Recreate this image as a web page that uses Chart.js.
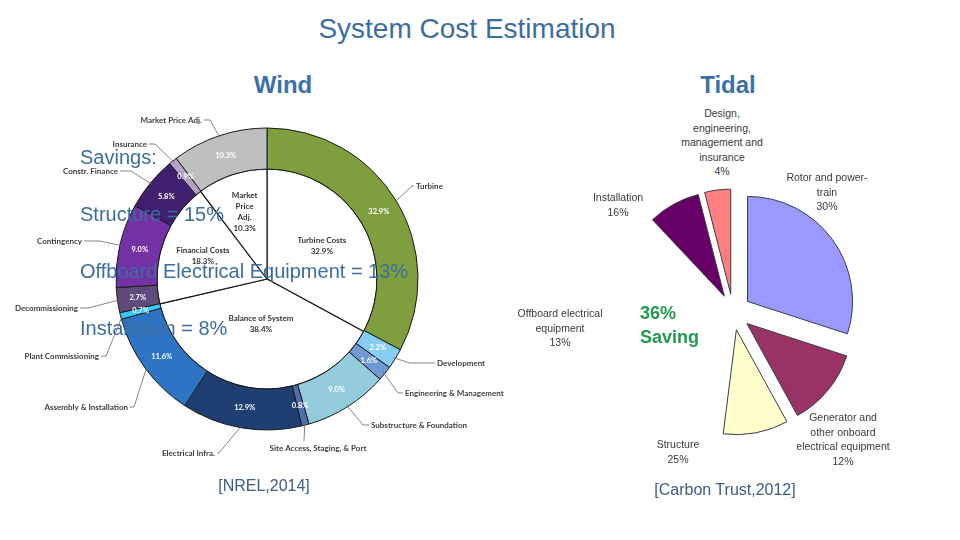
<!DOCTYPE html>
<html>
<head>
<meta charset="utf-8">
<script src="https://cdn.jsdelivr.net/npm/chart.js@4.4.0/dist/chart.umd.min.js"></script>
<style>
body { margin: 0; background: #fff; }
#slide { position: relative; width: 960px; height: 540px; overflow: hidden; font-family: "Liberation Sans", Arial, sans-serif; }
canvas { position: absolute; }
.t { position: absolute; white-space: nowrap; transform: translate(-50%, -50%); text-align: center; }
.l { position: absolute; white-space: nowrap; transform: translate(0, -50%); }
.tl { font-size: 10.5px; line-height: 14.5px; color: #3a3a3a; }
.sv { font-size: 20px; color: #3B6E9F; }
</style>
</head>
<body>
<div id="slide">
  <canvas id="windChart" width="530" height="380" style="left:0;top:100px"></canvas>
  <canvas id="tidalChart" width="270" height="270" style="left:600px;top:180px"></canvas>

  <div class="t" style="left:467px;top:29px;font-size:28px;color:#3B6E9F">System Cost Estimation</div>
  <div class="t" style="left:283px;top:85px;font-size:24px;font-weight:bold;color:#3C71A8">Wind</div>
  <div class="t" style="left:728px;top:85px;font-size:24px;font-weight:bold;color:#3C71A8">Tidal</div>

  <div class="l sv" style="left:80px;top:157px">Savings:</div>
  <div class="l sv" style="left:80px;top:214px">Structure = 15%</div>
  <div class="l sv" style="left:80px;top:271px">Offboard Electrical Equipment = 13%</div>
  <div class="l sv" style="left:80px;top:328px">Installation = 8%</div>

  <div class="t tl" style="left:722px;top:142px">Design,<br>engineering,<br>management and<br>insurance<br>4%</div>
  <div class="t tl" style="left:618px;top:204px">Installation<br>16%</div>
  <div class="t tl" style="left:827px;top:192px">Rotor and power-<br>train<br>30%</div>
  <div class="t tl" style="left:560px;top:328px">Offboard electrical<br>equipment<br>13%</div>
  <div class="t tl" style="left:678px;top:451px">Structure<br>25%</div>
  <div class="t tl" style="left:843px;top:439px">Generator and<br>other onboard<br>electrical equipment<br>12%</div>

  <div class="l" style="left:640px;top:325px;font-size:18px;line-height:24px;font-weight:bold;color:#1F9A50">36%<br>Saving</div>

  <div class="t" style="left:264px;top:486px;font-size:16px;color:#3d5c80">[NREL,2014]</div>
  <div class="t" style="left:725px;top:490px;font-size:16px;color:#3d5c80">[Carbon Trust,2012]</div>
</div>

<script>
// Wind (NREL 2014) - outer ring
const windParts = ["Turbine", "Development", "Engineering & Management", "Substructure & Foundation",
  "Site Access, Staging, & Port", "Electrical Infra.", "Assembly & Installation", "Plant Commissioning",
  "Decommissioning", "Contingency", "Constr. Finance", "Insurance", "Market Price Adj."];
const windShares = [32.9, 2.2, 1.6, 9.0, 0.8, 12.9, 11.6, 0.7, 2.7, 9.0, 5.8, 0.9, 10.3];

// Wind - inner pie
const windGroups = [["Turbine Costs"], ["Balance of System"], ["Financial Costs"], ["Market", "Price", "Adj."]];
const windGroupShares = [32.9, 38.4, 18.3, 10.3];

// Tidal (Carbon Trust 2012)
const tidalParts = ["Rotor and power-train", "Generator and other onboard electrical equipment", "Structure",
  "Offboard electrical equipment", "Installation", "Design, engineering, management and insurance"];
const tidalShares = [30, 12, 25, 13, 16, 4];
const tidalSavings = [0, 0, 15, 13, 8, 0];

// styles
const windColors = ["#7f9f3f", "#86cdf6", "#7099d6", "#93cddd", "#4f6faf", "#1f3f72", "#2e74c4",
  "#33ccff", "#604a7b", "#7431a6", "#40206e", "#b3a2c7", "#bfbfbf"];
const tidalColors = ["#9999ff", "#993366", "#ffffcc", "#ccccff", "#660066", "#ff8080"];

// label layout for the ring callouts, relative to the chart centre: [textX, textY, align, elbowX, elbowY]
const windCallouts = [
  [149, -93, "left", 145, -93],
  [170, 84, "left", 143, 84],
  [138, 114, "left", 131, 114],
  [104, 146, "left", 96, 146],
  [51, 169, "center", 37, 162],
  [-52, 174, "right", -48, 174],
  [-139, 128, "right", -133, 128],
  [-168, 77, "right", -161, 77],
  [-189, 29, "right", -179, 29],
  [-185, -38, "right", -167, -38],
  [-149, -108, "right", -136, -108],
  [-120, -135, "right", -112, -135],
  [-65, -159, "right", -57, -159]
];
const windGroupRadius = [0.58, 0.41, 0.62, 0.64];

const windLabels = {
  id: "windLabels",
  afterDatasetsDraw(chart) {
    const ctx = chart.ctx;
    const ring = chart.getDatasetMeta(0).data;
    const pie = chart.getDatasetMeta(1).data;
    ctx.save();
    ctx.textBaseline = "middle";

    // values inside the ring
    ctx.font = "bold 7.5px Lato";
    ctx.fillStyle = "#ffffff";
    ctx.textAlign = "center";
    ring.forEach((arc, i) => {
      const p = arc.tooltipPosition();
      ctx.fillText(windShares[i].toFixed(1) + "%", p.x, p.y);
    });

    // callouts
    ctx.font = "bold 8px Lato";
    ctx.strokeStyle = "#666";
    ctx.lineWidth = 0.8;
    ring.forEach((arc, i) => {
      const {x, y, startAngle, endAngle, outerRadius} = arc.getProps(["x", "y", "startAngle", "endAngle", "outerRadius"]);
      const mid = (startAngle + endAngle) / 2;
      const c = windCallouts[i];
      const tx = x + c[0], ty = y + c[1];
      ctx.beginPath();
      ctx.moveTo(x + Math.cos(mid) * (outerRadius - 2), y + Math.sin(mid) * (outerRadius - 2));
      ctx.lineTo(x + c[3], y + c[4]);
      if (c[2] === "left") ctx.lineTo(tx - 2, ty);
      if (c[2] === "right") ctx.lineTo(tx + 2, ty);
      ctx.stroke();
      ctx.fillStyle = "#404040";
      ctx.textAlign = c[2];
      ctx.fillText(windParts[i], tx, ty);
    });

    // inner pie labels
    ctx.fillStyle = "#333";
    ctx.textAlign = "center";
    pie.forEach((arc, i) => {
      const {x, y, startAngle, endAngle, outerRadius} = arc.getProps(["x", "y", "startAngle", "endAngle", "outerRadius"]);
      const mid = (startAngle + endAngle) / 2;
      const r = outerRadius * windGroupRadius[i];
      const lines = windGroups[i].concat([windGroupShares[i].toFixed(1) + "%"]);
      const cx = x + Math.cos(mid) * r;
      const cy = y + Math.sin(mid) * r - (lines.length - 1) * 5.5;
      lines.forEach((s, k) => ctx.fillText(s, cx, cy + k * 11));
    });
    ctx.restore();
  }
};

new Chart("windChart", {
  type: "doughnut",
  data: {
    labels: windParts,
    datasets: [{
      data: windShares,
      backgroundColor: windColors,
      borderColor: "#1a1a1a",
      borderWidth: 1,
      hoverBorderWidth: 1,
      weight: 41
    }, {
      data: windGroupShares,
      backgroundColor: "#ffffff",
      borderColor: "#1a1a1a",
      borderWidth: 1.2,
      hoverBorderWidth: 1.2,
      weight: 110
    }]
  },
  options: {
    responsive: false,
    animation: false,
    events: [],
    cutout: 0,
    layout: { padding: { left: 115.5, right: 111.5, top: 27.5, bottom: 49.5 } },
    plugins: { legend: { display: false }, tooltip: { enabled: false } }
  },
  plugins: [windLabels]
});

// Tidal: each part split into what is kept and what is saved (saved parts left blank)
const tidalSlices = [];
const tidalBg = [];
const tidalBorder = [];
tidalParts.forEach((p, i) => {
  const kept = tidalShares[i] - tidalSavings[i];
  const savedFirst = i > 0 && tidalSavings[i - 1] > 0;
  const pieces = savedFirst ? [[tidalSavings[i], false], [kept, true]] : [[kept, true], [tidalSavings[i], false]];
  pieces.forEach(([v, show]) => {
    if (v > 0) {
      tidalSlices.push(v);
      tidalBg.push(show ? tidalColors[i] : "rgba(0,0,0,0)");
      tidalBorder.push(show ? 1 : 0);
    }
  });
});

const explode = {
  id: "explode",
  afterDatasetsUpdate(chart) {
    chart.getDatasetMeta(0).data.forEach(arc => {
      const mid = (arc.startAngle + arc.endAngle) / 2;
      arc.x += Math.cos(mid) * 18;
      arc.y += Math.sin(mid) * 18;
    });
  }
};

new Chart("tidalChart", {
  type: "pie",
  data: {
    datasets: [{
      data: tidalSlices,
      backgroundColor: tidalBg,
      borderColor: "#3a3a4a",
      borderWidth: tidalBorder,
      hoverBorderWidth: 1,
      hoverOffset: 0
    }]
  },
  options: {
    responsive: false,
    animation: false,
    events: [],
    layout: { padding: { left: 27.5, right: 31.5, top: 26.5, bottom: 32.5 } },
    plugins: { legend: { display: false }, tooltip: { enabled: false } }
  },
  plugins: [explode]
});
</script>
</body>
</html>
